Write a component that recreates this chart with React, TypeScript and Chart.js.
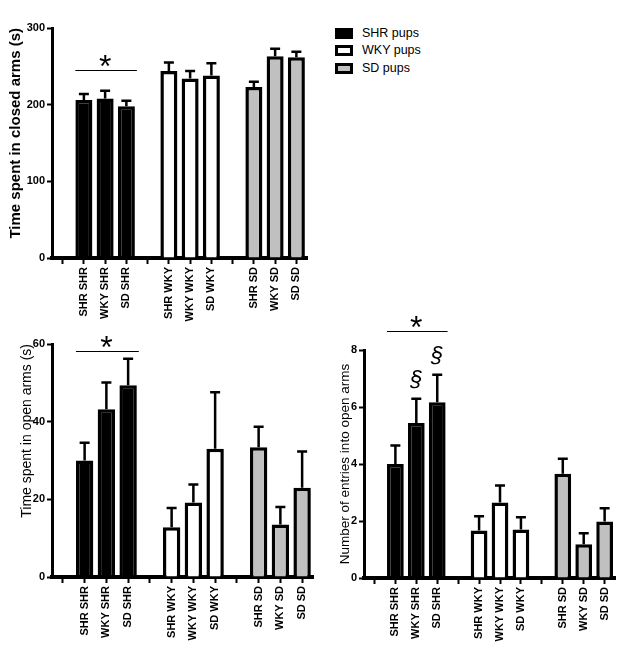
import React, { useEffect, useRef } from "react";
import { Chart, registerables } from "chart.js";

Chart.register(...registerables);

// ---------- data ----------
const xLabels = ["", "SHR SHR", "WKY SHR", "SD SHR", "", "SHR WKY", "WKY WKY", "SD WKY", "", "SHR SD", "WKY SD", "SD SD"];

const closedArmsMean = [null, 206, 208, 198, null, 244, 234, 238, null, 223, 263, 262];
const closedArmsSem = [null, 8, 10, 7, null, 11, 10, 16, null, 7, 10, 7];

const openArmsMean = [null, 30, 43.2, 49.4, null, 12.8, 19.2, 33, null, 33.4, 13.5, 23];
const openArmsSem = [null, 4.6, 6.9, 6.8, null, 5, 4.6, 14.6, null, 5.3, 4.5, 9.3];

const entriesMean = [null, 4.0, 5.44, 6.17, null, 1.67, 2.65, 1.7, null, 3.66, 1.18, 1.98];
const entriesSem = [null, 0.65, 0.85, 0.96, null, 0.5, 0.6, 0.43, null, 0.52, 0.39, 0.47];

const legendLabels = ["SHR pups", "WKY pups", "SD pups"];
const legendFills = ["#000000", "#ffffff", "#c0c0c0"];

const GRAY = "#c0c0c0";
const barFill = [
  "transparent", "#000000", "#000000", "#000000",
  "transparent", "#ffffff", "#ffffff", "#ffffff",
  "transparent", GRAY, GRAY, GRAY,
];

const FONT = '"Liberation Sans", Arial, Helvetica, sans-serif';

// ---------- overlay plugin: error bars, significance marks ----------
const overlayPlugin = {
  id: "semOverlay",
  afterDatasetsDraw(chart: any, _args: any, opts: any) {
    const ctx = chart.ctx;
    const yScale = chart.scales.y;
    const meta = chart.getDatasetMeta(0);
    const values = chart.data.datasets[0].data;
    const sem = opts.sem || [];
    const tops: number[] = [];
    ctx.save();
    ctx.strokeStyle = "#000";
    ctx.fillStyle = "#000";
    ctx.lineWidth = 2.5;
    meta.data.forEach((bar: any, i: number) => {
      const v = values[i];
      const e = sem[i];
      if (v == null || e == null) return;
      const yTop = yScale.getPixelForValue(v + e);
      tops[i] = yTop;
      ctx.beginPath();
      ctx.moveTo(bar.x, bar.y);
      ctx.lineTo(bar.x, yTop);
      ctx.moveTo(bar.x - 5, yTop);
      ctx.lineTo(bar.x + 5, yTop);
      ctx.stroke();
    });
    if (opts.bracket) {
      const { from, to, value } = opts.bracket;
      const a = meta.data[from];
      const b = meta.data[to];
      const x0 = a.x - a.width / 2;
      const x1 = b.x + b.width / 2 + 2;
      const yy = Math.round(yScale.getPixelForValue(value)) + 0.5;
      ctx.lineWidth = 1;
      ctx.beginPath();
      ctx.moveTo(x0, yy);
      ctx.lineTo(x1, yy);
      ctx.stroke();
      ctx.font = `32px ${FONT}`;
      ctx.textAlign = "center";
      ctx.textBaseline = "alphabetic";
      ctx.fillText("*", (x0 + x1) / 2 - 1, yy + 6);
    }
    (opts.marks || []).forEach((i: number) => {
      ctx.font = `italic 22px ${FONT}`;
      ctx.textAlign = "center";
      ctx.textBaseline = "alphabetic";
      ctx.fillText("§", meta.data[i].x, tops[i] - 12.5);
    });
    ctx.restore();
  },
};

type PanelProps = {
  values: (number | null)[];
  sem: (number | null)[];
  yMax: number;
  yStep: number;
  title: string;
  titleFont: any;
  titleAlign: "start" | "center" | "end";
  titlePad: number;
  yAxisWidth: number;
  xAxisHeight: number;
  padding: any;
  bracket?: any;
  marks?: number[];
  left: number;
  top: number;
  width: number;
  height: number;
};

function BarPanel(p: PanelProps) {
  const ref = useRef<HTMLCanvasElement>(null);
  useEffect(() => {
    const chart = new Chart(ref.current as HTMLCanvasElement, {
      type: "bar",
      data: {
        labels: xLabels,
        datasets: [
          {
            data: p.values as any,
            backgroundColor: barFill,
            borderColor: "#000000",
            borderWidth: 3.5,
            barPercentage: 0.8,
            categoryPercentage: 1,
          },
        ],
      },
      options: {
        responsive: false,
        animation: false,
        layout: { padding: p.padding },
        plugins: {
          legend: { display: false },
          tooltip: { enabled: false },
          semOverlay: { sem: p.sem, bracket: p.bracket, marks: p.marks },
        } as any,
        scales: {
          x: {
            offset: true,
            grid: {
              display: true,
              drawOnChartArea: false,
              drawTicks: true,
              tickLength: 6,
              tickWidth: 2,
              tickColor: "#000",
              offset: false,
            },
            border: { display: true, color: "#000", width: 4 },
            ticks: {
              autoSkip: false,
              maxRotation: 90,
              minRotation: 90,
              padding: 3,
              color: "#000",
              font: { family: FONT, size: 11, weight: "bold" },
            },
            afterFit: (s: any) => {
              s.height = p.xAxisHeight;
            },
          },
          y: {
            min: 0,
            max: p.yMax,
            grid: {
              display: true,
              drawOnChartArea: false,
              drawTicks: true,
              tickLength: 5,
              tickWidth: 2,
              tickColor: "#000",
            },
            border: { display: true, color: "#000", width: 3 },
            ticks: {
              stepSize: p.yStep,
              padding: 2,
              color: "#000",
              font: { family: FONT, size: 11, weight: "bold" },
            },
            title: {
              display: true,
              text: p.title,
              color: "#000",
              align: p.titleAlign,
              font: p.titleFont,
              padding: { top: p.titlePad, bottom: 0 },
            },
            afterFit: (s: any) => {
              s.width = p.yAxisWidth;
            },
          },
        },
      } as any,
      plugins: [overlayPlugin],
    });
    return () => chart.destroy();
  }, []);
  return (
    <canvas
      ref={ref}
      width={p.width}
      height={p.height}
      style={{ position: "absolute", left: p.left, top: p.top, width: p.width, height: p.height }}
    />
  );
}

function Legend() {
  const rowCenters = [33, 50, 68];
  return (
    <>
      {legendLabels.map((label, i) => (
        <div key={label}>
          <div
            style={{
              position: "absolute",
              left: 335,
              top: rowCenters[i] - 5.5,
              width: 18,
              height: 11,
              boxSizing: "border-box",
              background: legendFills[i],
              border: "3px solid #000",
            }}
          />
          <div
            style={{
              position: "absolute",
              left: 362,
              top: rowCenters[i] - 8,
              height: 16,
              lineHeight: "16px",
              fontFamily: FONT,
              fontSize: 12.5,
              color: "#000",
              whiteSpace: "nowrap",
            }}
          >
            {label}
          </div>
        </div>
      ))}
    </>
  );
}

export default function App() {
  return (
    <div
      style={{
        position: "absolute",
        left: 0,
        top: 0,
        width: 621,
        height: 650,
        background: "#fff",
        overflow: "hidden",
      }}
    >
      <BarPanel
        values={closedArmsMean}
        sem={closedArmsSem}
        yMax={300}
        yStep={100}
        title="Time spent in closed arms (s)"
        titleFont={{ family: FONT, size: 15, weight: "bold" }}
        titleAlign="end"
        titlePad={7}
        yAxisWidth={52}
        xAxisHeight={72}
        padding={{ left: 0, right: 13, top: 28, bottom: 0 }}
        bracket={{ from: 1, to: 3, value: 245 }}
        left={0}
        top={0}
        width={320}
        height={330}
      />
      <BarPanel
        values={openArmsMean}
        sem={openArmsSem}
        yMax={60}
        yStep={20}
        title="Time spent in open arms (s)"
        titleFont={{ family: FONT, size: 14, weight: "normal" }}
        titleAlign="end"
        titlePad={18.6}
        yAxisWidth={52}
        xAxisHeight={73}
        padding={{ left: 0, right: 7, top: 14, bottom: 0 }}
        bracket={{ from: 1, to: 3, value: 58.3 }}
        left={0}
        top={330}
        width={320}
        height={320}
      />
      <BarPanel
        values={entriesMean}
        sem={entriesSem}
        yMax={8}
        yStep={2}
        title="Number of entries into open arms"
        titleFont={{ family: FONT, size: 13.5, weight: "normal" }}
        titleAlign="center"
        titlePad={17}
        yAxisWidth={44}
        xAxisHeight={72}
        padding={{ left: 0, right: 4, top: 50, bottom: 0 }}
        bracket={{ from: 1, to: 3, value: 8.65 }}
        marks={[2, 3]}
        left={320}
        top={300}
        width={301}
        height={350}
      />
      <Legend />
    </div>
  );
}
